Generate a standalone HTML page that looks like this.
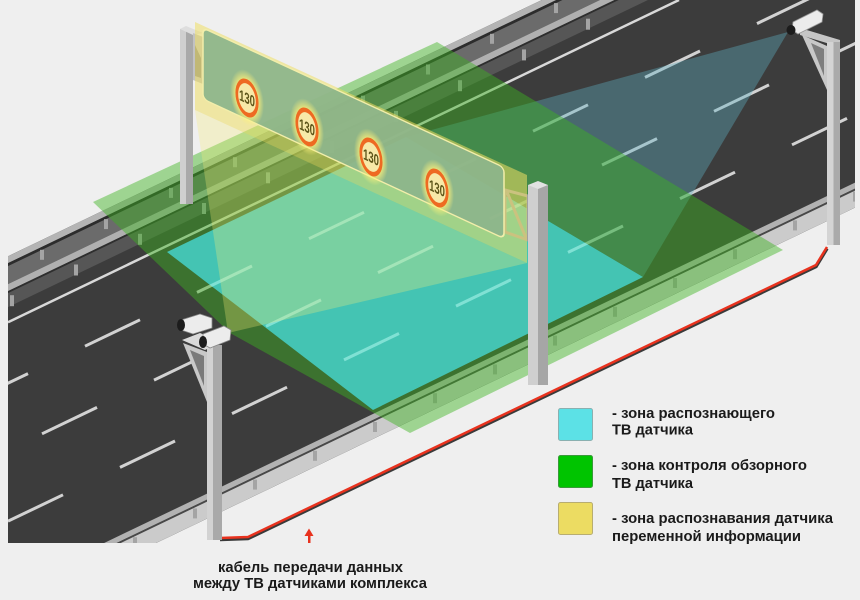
<!DOCTYPE html>
<html><head><meta charset="utf-8">
<style>
html,body{margin:0;padding:0;background:#efefef;}
svg{display:block;}
text{font-family:"Liberation Sans",Arial,sans-serif;font-weight:bold;}
</style></head>
<body>
<svg width="860" height="600" viewBox="0 0 860 600" xmlns="http://www.w3.org/2000/svg">
<defs>
<clipPath id="road"><polygon points="8,256.2 541.7,0 855,0 855,207.6 156.25,543 8,543"/></clipPath>
<clipPath id="cy"><polygon points="167,252 406,137 643,277 373,410"/></clipPath>
<radialGradient id="glow"><stop offset="0" stop-color="#fff27a" stop-opacity="1"/><stop offset="0.6" stop-color="#fff27a" stop-opacity="0.9"/><stop offset="1" stop-color="#fff27a" stop-opacity="0"/></radialGradient>
</defs>
<rect width="860" height="600" fill="#efefef"/>

<!-- ROAD -->
<g clip-path="url(#road)">
 <rect width="860" height="600" fill="#3c3c3c"/>
 <polygon points="0,260 860,-152.8 860,-145.8 0,267" fill="#b4b4b4"/>
 <polygon points="0,267 860,-145.8 860,-142.8 0,270" fill="#2c2c2c"/>
 <polygon points="0,270 860,-142.8 860,-124.8 0,288" fill="#6b6b6b"/>
 <polygon points="0,288 860,-124.8 860,-117.8 0,295" fill="#b0b0b0"/>
 <polygon points="0,295 860,-117.8 860,-115.8 0,297" fill="#2e2e2e"/>
 <polygon points="0,297 860,-115.8 860,-101.8 0,311" fill="#565656"/>
 <polygon points="0,593 860,180.2 860,186.2 0,599" fill="#b2b2b2"/>
 <polygon points="0,599 860,186.2 860,188.2 0,601" fill="#484848"/>
 <polygon points="0,601 860,188.2 860,205.2 0,618" fill="#cbcbcb"/>
 <g fill="#a4a4a4">
  <rect x="40" y="249.8" width="4" height="10"/><rect x="104" y="219.1" width="4" height="10"/>
  <rect x="169" y="187.9" width="4" height="10"/><rect x="233" y="157.2" width="4" height="10"/>
  <rect x="297" y="126.4" width="4" height="10"/><rect x="361" y="95.7" width="4" height="10"/>
  <rect x="426" y="64.5" width="4" height="10"/><rect x="490" y="33.8" width="4" height="10"/>
  <rect x="554" y="3.1" width="4" height="10"/>
  <rect x="10" y="295.2" width="4" height="11"/><rect x="74" y="264.5" width="4" height="11"/>
  <rect x="138" y="233.8" width="4" height="11"/><rect x="202" y="203" width="4" height="11"/>
  <rect x="266" y="172.3" width="4" height="11"/><rect x="330" y="141.6" width="4" height="11"/>
  <rect x="394" y="110.9" width="4" height="11"/><rect x="458" y="80.2" width="4" height="11"/>
  <rect x="522" y="49.4" width="4" height="11"/><rect x="586" y="18.7" width="4" height="11"/>
  <rect x="133" y="537.2" width="4" height="10"/><rect x="193" y="508.4" width="4" height="10"/>
  <rect x="253" y="479.6" width="4" height="10"/><rect x="313" y="450.8" width="4" height="10"/>
  <rect x="373" y="422" width="4" height="10"/><rect x="433" y="393.2" width="4" height="10"/>
  <rect x="493" y="364.4" width="4" height="10"/><rect x="553" y="335.6" width="4" height="10"/>
  <rect x="613" y="306.8" width="4" height="10"/><rect x="673" y="278" width="4" height="10"/>
  <rect x="733" y="249.2" width="4" height="10"/><rect x="793" y="220.4" width="4" height="10"/>
  <rect x="853" y="191.6" width="4" height="10"/>
 </g>
 <line x1="8" y1="322.2" x2="679" y2="0" stroke="#d8d8d8" stroke-width="2.5"/>
 <g id="dashes" stroke="#d2d2d2" stroke-width="3">
  <line x1="-27" y1="400" x2="28" y2="373.6"/><line x1="85" y1="346.2" x2="140" y2="319.8"/>
  <line x1="197" y1="292.4" x2="252" y2="266"/><line x1="309" y1="238.7" x2="364" y2="212.3"/>
  <line x1="421" y1="184.9" x2="476" y2="158.5"/><line x1="533" y1="131.2" x2="588" y2="104.8"/>
  <line x1="645" y1="77.4" x2="700" y2="51"/><line x1="757" y1="23.6" x2="812" y2="-2.8"/>
  <line x1="42" y1="433.8" x2="97" y2="407.4"/><line x1="154" y1="380.1" x2="209" y2="353.7"/>
  <line x1="266" y1="326.3" x2="321" y2="299.9"/><line x1="378" y1="272.6" x2="433" y2="246.2"/>
  <line x1="490" y1="218.8" x2="545" y2="192.4"/><line x1="602" y1="165" x2="657" y2="138.6"/>
  <line x1="714" y1="111.3" x2="769" y2="84.9"/><line x1="826" y1="57.5" x2="881" y2="31.1"/>
  <line x1="8" y1="521.2" x2="63" y2="494.8"/><line x1="120" y1="467.4" x2="175" y2="441"/>
  <line x1="232" y1="413.6" x2="287" y2="387.2"/><line x1="344" y1="359.9" x2="399" y2="333.5"/>
  <line x1="456" y1="306.1" x2="511" y2="279.7"/><line x1="568" y1="252.4" x2="623" y2="226"/>
  <line x1="680" y1="198.6" x2="735" y2="172.2"/><line x1="792" y1="144.8" x2="847" y2="118.4"/>
 </g>
</g>

<!-- ZONES -->
<polygon points="788,32 406,137 643,277" fill="rgb(95,175,195)" fill-opacity="0.38"/>
<polygon points="93,202 437,42 783,250 410,433 230,333" fill="rgb(60,180,30)" fill-opacity="0.45"/>
<polygon points="167,252 406,137 643,277 373,410" fill="#46cfc6" fill-opacity="0.88"/>
<g clip-path="url(#cy)" stroke="#aaf0e6" stroke-opacity="0.55" stroke-width="3">
  <line x1="85" y1="346.2" x2="140" y2="319.8"/><line x1="197" y1="292.4" x2="252" y2="266"/>
  <line x1="309" y1="238.7" x2="364" y2="212.3"/><line x1="421" y1="184.9" x2="476" y2="158.5"/>
  <line x1="154" y1="380.1" x2="209" y2="353.7"/><line x1="266" y1="326.3" x2="321" y2="299.9"/>
  <line x1="378" y1="272.6" x2="433" y2="246.2"/><line x1="490" y1="218.8" x2="545" y2="192.4"/>
  <line x1="232" y1="413.6" x2="287" y2="387.2"/><line x1="344" y1="359.9" x2="399" y2="333.5"/>
  <line x1="456" y1="306.1" x2="511" y2="279.7"/><line x1="568" y1="252.4" x2="623" y2="226"/>
</g>

<!-- LEFT GANTRY POLE -->
<rect x="180" y="29" width="6" height="175" fill="#cfcfcf"/>
<rect x="186" y="29" width="7" height="175" fill="#a9a9a9"/>
<polygon points="180,29 186,26 203,33 193,35" fill="#dedede"/>
<polygon points="193,33 203,37 203,84 193,80" fill="#c2c2c2"/>
<polygon points="195,45 201,58 201,78 195,76" fill="#8a8a8a"/>

<!-- RIGHT GANTRY BRACKET -->
<polygon points="505,190 528,196 528,240 505,232" fill="none" stroke="#a0a0a0" stroke-width="3"/>
<line x1="507" y1="192" x2="526" y2="238" stroke="#a0a0a0" stroke-width="3"/>

<!-- YELLOW ZONE -->
<g transform="translate(195,22) skewY(24.75)"><rect width="332" height="88" fill="rgb(238,222,100)" fill-opacity="0.55"/></g>
<polygon points="195,110 527,263 228,333" fill="rgb(245,235,120)" fill-opacity="0.3"/>

<!-- SIGN -->
<g transform="translate(203,28) skewY(24.85)"><rect width="301" height="71" rx="5" fill="#8db58b" fill-opacity="0.93" stroke="#f2eeaa" stroke-width="1.5"/></g>
<g transform="translate(247,98) skewY(24.85) scale(0.68,1.1)"><circle r="25" fill="url(#glow)"/><circle r="15" fill="#f7e9a8" stroke="#ee6a22" stroke-width="4"/><text y="5" text-anchor="middle" font-size="14" fill="#5c5418">130</text></g>
<g transform="translate(307,127) skewY(24.85) scale(0.68,1.1)"><circle r="25" fill="url(#glow)"/><circle r="15" fill="#f7e9a8" stroke="#ee6a22" stroke-width="4"/><text y="5" text-anchor="middle" font-size="14" fill="#5c5418">130</text></g>
<g transform="translate(371,157) skewY(24.85) scale(0.68,1.1)"><circle r="25" fill="url(#glow)"/><circle r="15" fill="#f7e9a8" stroke="#ee6a22" stroke-width="4"/><text y="5" text-anchor="middle" font-size="14" fill="#5c5418">130</text></g>
<g transform="translate(437,188) skewY(24.85) scale(0.68,1.1)"><circle r="25" fill="url(#glow)"/><circle r="15" fill="#f7e9a8" stroke="#ee6a22" stroke-width="4"/><text y="5" text-anchor="middle" font-size="14" fill="#5c5418">130</text></g>

<!-- RIGHT GANTRY POLE -->
<rect x="528" y="185" width="10" height="200" fill="#cfcfcf"/>
<rect x="538" y="185" width="10" height="200" fill="#a6a6a6"/>
<polygon points="528,185 538,181 548,185 538,189" fill="#e2e2e2"/>

<!-- CABLE -->
<polyline points="220,539.5 248,538.5 816,266.5 827,248.5" fill="none" stroke="#3a3a3a" stroke-width="3.5"/>
<polyline points="220,538 248,537 816,265 827,247" fill="none" stroke="#e8321e" stroke-width="2.5"/>
<rect x="308" y="535" width="2.5" height="8" fill="#e8321e"/>
<polygon points="304.5,536 313.5,536 309,528.5" fill="#e8321e"/>

<!-- RIGHT CAMERA POLE -->
<polygon points="800,28 840,40 840,47 800,35" fill="#c6c6c6"/>
<polygon points="802,35 827,46 827,90" fill="#c8c8c8"/>
<polygon points="811,43 824,49 824,76" fill="#7e7e7e"/>
<rect x="827" y="42" width="6.5" height="203" fill="#d4d4d4"/>
<rect x="833.5" y="42" width="6.5" height="203" fill="#aaaaaa"/>
<polygon points="793,22 817,10 823,14 822,22 798,34 792,30" fill="#ececec" stroke="#9a9a9a" stroke-width="0.8"/>
<ellipse cx="791" cy="30" rx="4.5" ry="5" fill="#1c1c1c"/>

<!-- LEFT CAMERA POLE -->
<polygon points="183,343 207,352 207,402" fill="#c8c8c8"/>
<polygon points="190,350 204,356 204,386" fill="#7a7a7a"/>
<rect x="207" y="345" width="6" height="195" fill="#d2d2d2"/>
<rect x="213" y="345" width="9" height="195" fill="#a9a9a9"/>
<polygon points="182,340 200,333 222,342 205,350" fill="#dadada"/>
<polygon points="181,320 200,314 212,318 212,328 193,334 181,330" fill="#ececec" stroke="#888" stroke-width="0.8"/>
<ellipse cx="181" cy="325" rx="4" ry="6" fill="#1c1c1c"/>
<polygon points="203,334 224,326 231,330 230,340 210,348 203,344" fill="#ececec" stroke="#888" stroke-width="0.8"/>
<ellipse cx="203" cy="342" rx="4" ry="6" fill="#1c1c1c"/>

<!-- LEGEND -->
<rect x="558.5" y="408.5" width="34" height="32" rx="2" fill="#5ce1e6" stroke="#8ab0b0"/>
<rect x="558.5" y="455.5" width="34" height="32" rx="2" fill="#00c400" stroke="#3a9a3a"/>
<rect x="558.5" y="502.5" width="34" height="32" rx="2" fill="#ecdc62" stroke="#b8ad70"/>
<g font-size="15" fill="#1a1a1a">
 <text x="612" y="418" textLength="163" lengthAdjust="spacingAndGlyphs">- зона распознающего</text>
 <text x="612" y="434.5" textLength="81" lengthAdjust="spacingAndGlyphs">ТВ датчика</text>
 <text x="612" y="470" textLength="195" lengthAdjust="spacingAndGlyphs">- зона контроля обзорного</text>
 <text x="612" y="488" textLength="81" lengthAdjust="spacingAndGlyphs">ТВ датчика</text>
 <text x="612" y="523" textLength="221" lengthAdjust="spacingAndGlyphs">- зона распознавания датчика</text>
 <text x="612" y="541" textLength="189" lengthAdjust="spacingAndGlyphs">переменной информации</text>
 <text x="218" y="572" textLength="185" lengthAdjust="spacingAndGlyphs">кабель передачи данных</text>
 <text x="193" y="588" textLength="234" lengthAdjust="spacingAndGlyphs">между ТВ датчиками комплекса</text>
</g>
</svg>
</body></html>
